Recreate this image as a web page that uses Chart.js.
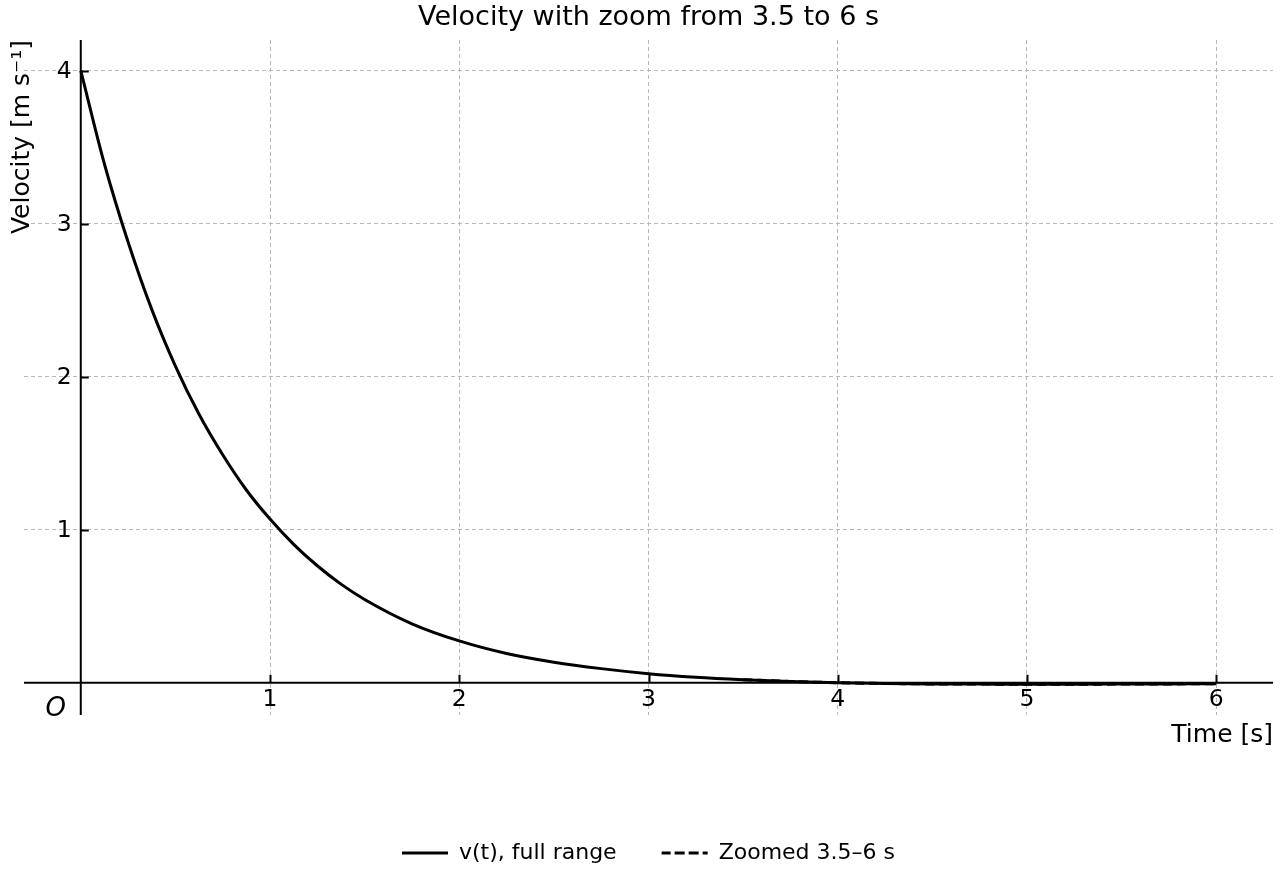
<!DOCTYPE html>
<html>
<head>
<meta charset="utf-8">
<title>Velocity with zoom</title>
<script src="https://cdn.jsdelivr.net/npm/chart.js@4.4.1/dist/chart.umd.min.js"></script>
<style>
  html, body { margin: 0; padding: 0; background: #fff; }
  #wrap { width: 1280px; height: 880px; }
</style>
</head>
<body>
<div id="wrap"><canvas id="chart" width="1280" height="880"></canvas></div>
<script>
// --- Dades llegides del gràfic ---
const timeFull = [0, 0.125, 0.25, 0.375, 0.5, 0.625, 0.75, 0.875, 1, 1.125, 1.25, 1.375, 1.5,
                  1.75, 2, 2.25, 2.5, 2.75, 3, 3.25, 3.5, 3.75, 4, 4.25, 4.5, 4.75, 5,
                  5.25, 5.5, 5.75, 6];
const velFull  = [4.00, 3.39, 2.88, 2.44, 2.07, 1.755, 1.49, 1.26, 1.07, 0.905, 0.765, 0.645, 0.545,
                  0.386, 0.274, 0.192, 0.135, 0.093, 0.06, 0.037, 0.021, 0.009, 0.001, -0.004, -0.007, -0.008, -0.009,
                  -0.009, -0.008, -0.007, -0.006];
const timeZoom = [3.5, 3.75, 4, 4.25, 4.5, 4.75, 5, 5.25, 5.5, 5.75, 6];
const velZoom  = [0.021, 0.009, 0.001, -0.004, -0.007, -0.008, -0.009, -0.009, -0.008, -0.007, -0.006];

const xTicks = [1, 2, 3, 4, 5, 6];
const yTicks = [1, 2, 3, 4];

const FONT = "'DejaVu Sans', sans-serif";

const toPoints = (xs, ys) => xs.map((t, i) => ({ x: t, y: ys[i] }));

// --- Eixos creuats a l'origen (estil matplotlib) ---
const zeroAxes = {
    id: 'zeroAxes',
    beforeDatasetsDraw(chart) {
        const { ctx, chartArea: a, scales: { x, y } } = chart;
        const x0 = x.getPixelForValue(0);
        const y0 = y.getPixelForValue(0);
        ctx.save();
        ctx.strokeStyle = '#000';
        ctx.lineWidth = 2;
        ctx.beginPath();
        ctx.moveTo(a.left, y0); ctx.lineTo(a.right, y0);
        ctx.moveTo(x0, a.top); ctx.lineTo(x0, a.bottom);
        ctx.stroke();

        // ticks cap endins
        ctx.beginPath();
        xTicks.forEach(v => {
            const px = Math.round(x.getPixelForValue(v)) + 0.5;
            ctx.moveTo(px, y0); ctx.lineTo(px, y0 - 8);
        });
        yTicks.forEach(v => {
            const py = Math.round(y.getPixelForValue(v)) + 0.5;
            ctx.moveTo(x0, py); ctx.lineTo(x0 + 8, py);
        });
        ctx.stroke();

        ctx.fillStyle = '#000';
        ctx.font = '23.5px ' + FONT;
        ctx.textAlign = 'center';
        ctx.textBaseline = 'middle';
        xTicks.forEach(v => ctx.fillText(String(v), x.getPixelForValue(v), y0 + 17));
        ctx.textAlign = 'right';
        yTicks.forEach(v => ctx.fillText(String(v), x0 - 9, y.getPixelForValue(v) + 1));

        // origen
        ctx.font = 'italic 26px ' + FONT;
        ctx.textAlign = 'center';
        ctx.fillText('O', x0 - 25, y0 + 26);

        // títols d'eixos
        ctx.font = '25px ' + FONT;
        ctx.textAlign = 'right';
        ctx.fillText('Time [s]', a.right, y0 + 53);
        ctx.translate(22, a.top);
        ctx.rotate(-Math.PI / 2);
        ctx.textAlign = 'right';
        ctx.fillText('Velocity [m s\u207B\u00B9]', 0, 0);
        ctx.restore();
    }
};

const gridColor = ctx => (ctx.tick && ctx.tick.value === 0) ? 'rgba(0,0,0,0)' : '#b8b8b8';

new Chart(document.getElementById('chart'), {
    type: 'line',
    data: {
        datasets: [
            {
                label: 'v(t), full range',
                data: toPoints(timeFull, velFull),
                borderColor: '#000',
                backgroundColor: 'rgba(0,0,0,0)',
                borderWidth: 3,
                pointRadius: 0,
                cubicInterpolationMode: 'monotone',
            },
            {
                label: 'Zoomed 3.5\u20136 s',
                data: toPoints(timeZoom, velZoom),
                borderColor: '#000',
                backgroundColor: 'rgba(0,0,0,0)',
                borderWidth: 3,
                borderDash: [9, 5],
                pointRadius: 0,
                cubicInterpolationMode: 'monotone',
            }
        ]
    },
    options: {
        responsive: false,
        animation: false,
        layout: { padding: { left: 24, right: 7, top: 0, bottom: 6 } },
        plugins: {
            title: {
                display: true,
                text: 'Velocity with zoom from 3.5 to 6 s',
                color: '#000',
                font: { family: FONT, size: 27, weight: 'normal' },
                padding: { top: 2, bottom: 5.6 }
            },
            legend: {
                position: 'bottom',
                labels: {
                    color: '#000',
                    font: { family: FONT, size: 22 },
                    boxWidth: 46,
                    boxHeight: 0,
                    padding: 45
                }
            },
            tooltip: { enabled: false }
        },
        scales: {
            x: {
                type: 'linear',
                min: -0.3, max: 6.3,
                ticks: { display: false, stepSize: 1, includeBounds: false },
                grid: { color: gridColor, lineWidth: 1, drawTicks: false },
                border: { display: false, dash: [4, 3] },
                afterFit(scale) { scale.height = 82; }
            },
            y: {
                type: 'linear',
                min: -0.21, max: 4.2,
                ticks: { display: false, stepSize: 1, includeBounds: false },
                grid: { color: gridColor, lineWidth: 1, drawTicks: false },
                border: { display: false, dash: [4, 3] },
                afterFit(scale) { scale.width = 0; }
            }
        }
    },
    plugins: [zeroAxes]
});
</script>
</body>
</html>
